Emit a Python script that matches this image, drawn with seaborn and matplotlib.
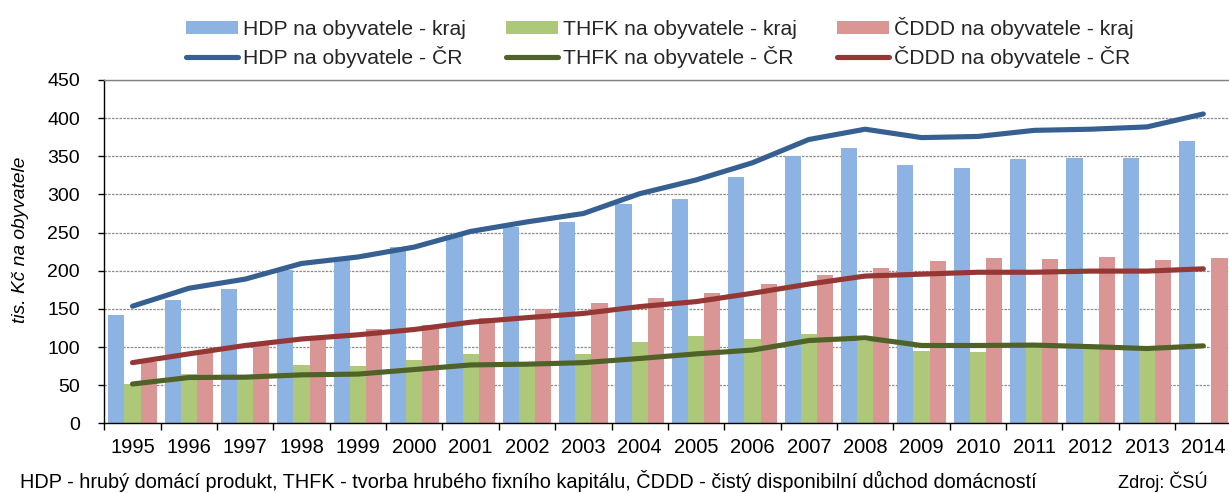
import numpy as np
import pandas as pd
import matplotlib
matplotlib.use("Agg")
import matplotlib.pyplot as plt
from matplotlib.patches import Patch
from matplotlib.lines import Line2D
import seaborn as sns

# ---------------- data ----------------
years = [str(y) for y in range(1995, 2015)]
hdp_kraj = [141.5, 161.5, 175.5, 201, 214, 231.5, 247, 257, 264, 288, 294, 323, 350, 361.5, 338.5, 334, 346, 348, 347.5, 369.5]
thfk_kraj = [51.5, 64, 61.5, 76.5, 75.5, 82.5, 91, 80.5, 91, 106, 115, 110, 117.5, 108.5, 95, 93, 102, 103, 95, np.nan]
cddd_kraj = [81, 94, 102.5, 111, 123, 129.5, 137.5, 149.5, 157.5, 164.5, 171, 183, 195, 203, 213, 216.5, 215, 218.5, 214, 216.5]
hdp_cr = [153.5, 177, 189, 209.5, 218, 231, 251.5, 264, 275, 301, 319, 341.5, 372, 385.5, 374.5, 376, 384, 385.5, 388.5, 405.5]
thfk_cr = [51.5, 60, 60.5, 63.5, 64.5, 70.5, 76.5, 77.5, 79.5, 85, 91, 96, 108.5, 112, 102, 102, 102.5, 100.5, 98, 101.5]
cddd_cr = [79.5, 91, 102, 110.5, 116, 123, 132.5, 138.5, 144, 153, 159.5, 170.5, 182.5, 193, 195.5, 198, 198, 199.5, 199.5, 202.5]

bar_names = ["HDP na obyvatele - kraj", "THFK na obyvatele - kraj", "ČDDD na obyvatele - kraj"]
line_names = ["HDP na obyvatele - ČR", "THFK na obyvatele - ČR", "ČDDD na obyvatele - ČR"]
ylabel = "tis. Kč na obyvatele"
note = "HDP - hrubý domácí produkt, THFK - tvorba hrubého fixního kapitálu, ČDDD - čistý disponibilní důchod domácností"
source = "Zdroj: ČSÚ"

bar_colors = ["#8DB3E2", "#ADC878", "#D99694"]
line_colors = ["#376092", "#4F6228", "#953735"]

# ---------------- figure ----------------
sns.set_theme(style="white")
plt.rcParams["font.family"] = ["Liberation Sans", "DejaVu Sans"]

W, H = 1229, 493
fig = plt.figure(figsize=(W / 100, H / 100), dpi=100)
ax = fig.add_axes([104.3 / W, 1 - 423.3 / H, 1127.2 / W, 343.3 / H])

df = pd.DataFrame({
    "year": years * 3,
    "value": hdp_kraj + thfk_kraj + cddd_kraj,
    "series": [bar_names[0]] * len(years) + [bar_names[1]] * len(years) + [bar_names[2]] * len(years),
})

sns.barplot(data=df, x="year", y="value", hue="series", hue_order=bar_names,
            palette=bar_colors, saturation=1, width=0.86, linewidth=0,
            legend=False, ax=ax, zorder=2)

xpos = np.arange(len(years))
for vals, col in zip([hdp_cr, thfk_cr, cddd_cr], line_colors):
    sns.lineplot(x=xpos, y=vals, color=col, linewidth=3.7, ax=ax,
                 solid_capstyle="round", zorder=3)

ax.set_xlim(-0.5, len(years) - 0.5)
ax.set_ylim(0, 450)
ax.set_yticks(np.arange(0, 451, 50))
ax.set_xticks(xpos)
ax.set_xticklabels(years)
ax.set_xticks(np.arange(len(years) + 1) - 0.5, minor=True)
ax.tick_params(axis="x", which="major", length=0, pad=10.5, labelsize=14.5, colors="black")
ax.tick_params(axis="x", which="minor", length=5, width=1, direction="out", color="black", bottom=True)
ax.tick_params(axis="y", which="major", length=4.5, width=1, direction="out", color="black",
               pad=13, labelsize=14, left=True, labelcolor="black")
ax.set_xlabel("")
ax.set_ylabel(ylabel, fontstyle="italic", fontsize=13.8, color="black")
ax.yaxis.set_label_coords(-0.0668, 0.534)

ax.yaxis.grid(True, linestyle=(0, (2, 1)), color="#8c8c8c", linewidth=0.9)
ax.xaxis.grid(False)
ax.set_axisbelow(True)
ax.spines["right"].set_visible(False)
ax.spines["top"].set_color("#808080")
ax.spines["top"].set_linewidth(1)
for s in ["left", "bottom"]:
    ax.spines[s].set_color("black")
    ax.spines[s].set_linewidth(1)

handles = []
labels = []
for bn, bc, ln, lc in zip(bar_names, bar_colors, line_names, line_colors):
    handles.append(Patch(facecolor=bc, edgecolor="none"))
    labels.append(bn)
    handles.append(Line2D([0], [0], color=lc, linewidth=3.7, solid_capstyle="round"))
    labels.append(ln)

fig.legend(handles, labels, ncol=3, loc="upper left", bbox_to_anchor=(186 / W, 1 - 17 / H),
           frameon=False, fontsize=15.2, handlelength=2.46, handleheight=0.5,
           handletextpad=0.24, columnspacing=1.9, labelspacing=0.32, borderpad=0,
           borderaxespad=0)

t_note = fig.text(20 / W, 1 - 488.5 / H, note, fontsize=14.5, va="baseline", ha="left", color="black")
t_src = fig.text(1118 / W, 1 - 488.5 / H, source, fontsize=13.5, va="baseline", ha="left", color="black")

# fit footnote widths to the measured text widths
fig.canvas.draw()
r = fig.canvas.get_renderer()
for t, target in [(t_note, 1012), (t_src, 90)]:
    w = t.get_window_extent(r).width
    t.set_fontsize(t.get_fontsize() * target / w)

fig.savefig("out.png", dpi=100)
